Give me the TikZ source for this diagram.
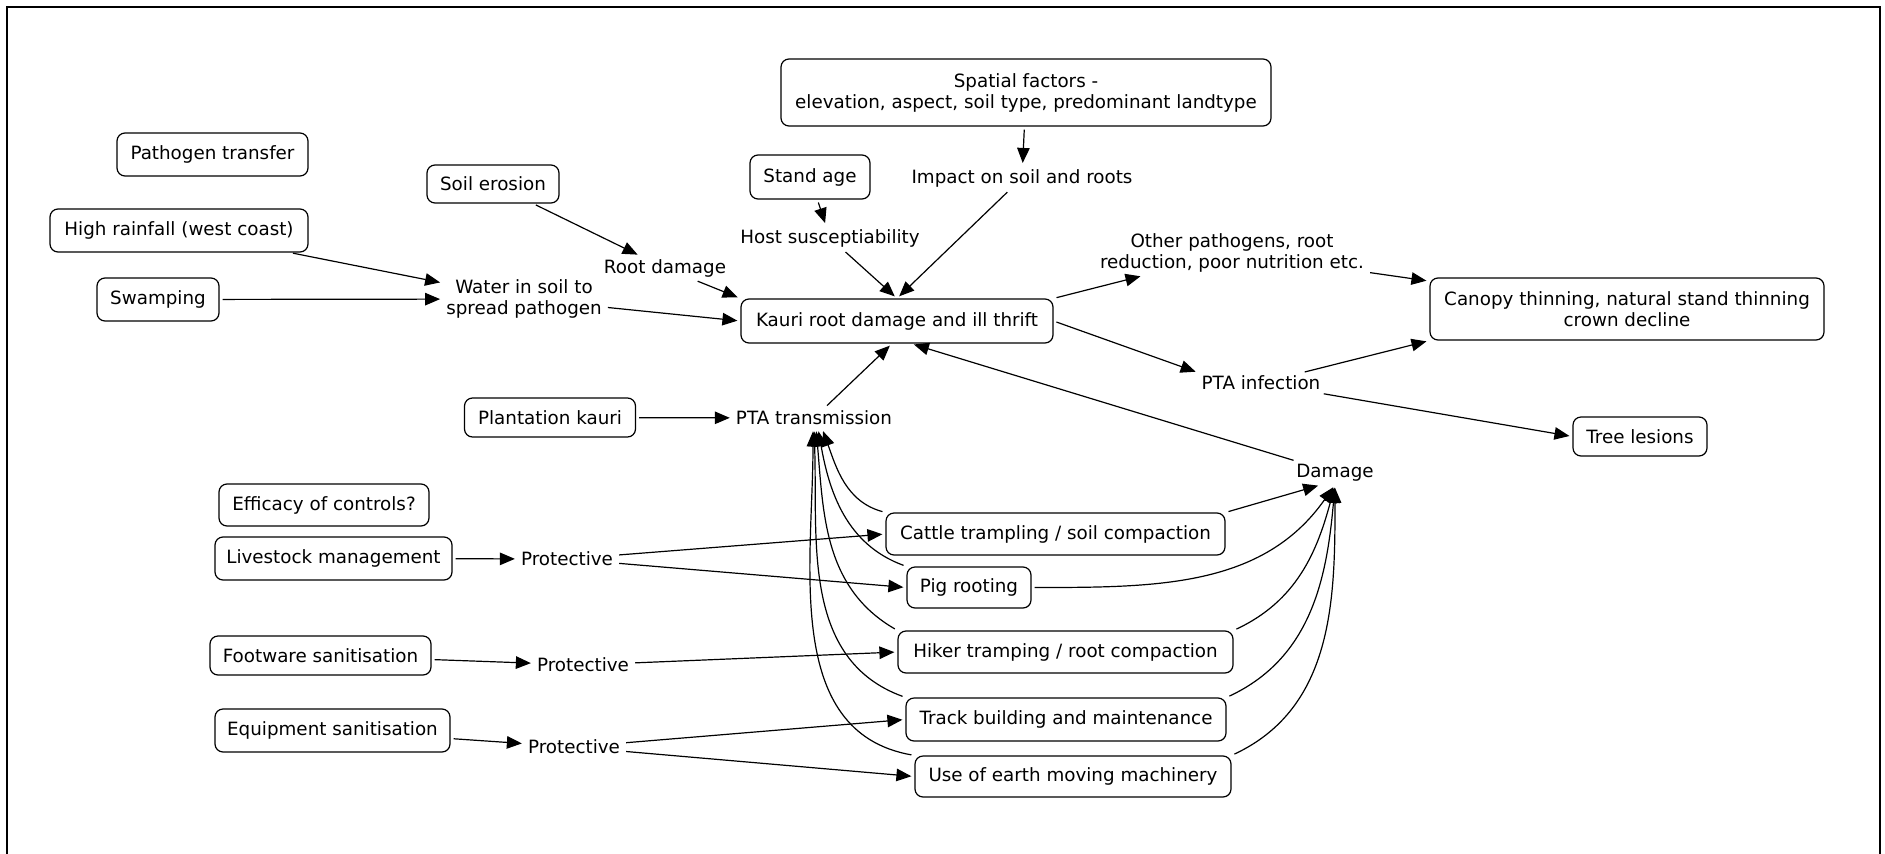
\documentclass[tikz,border=0pt]{standalone}
\usepackage{fontspec}
\setmainfont{DejaVu Sans}
\usetikzlibrary{arrows.meta}
\tikzset{
  every node/.style={font=\fontsize{18.3pt}{21pt}\selectfont},
  box/.style={draw, rounded corners=8pt, line width=1.2pt, align=center, inner sep=2pt},
  lbl/.style={align=center, inner sep=3pt},
  arr/.style={-{Triangle[length=15pt,width=12.5pt]}, line width=1.2pt, shorten >=3pt, shorten <=3pt},
}
\begin{document}
\begin{tikzpicture}[x=1pt,y=-1pt]
\useasboundingbox (0,0) rectangle (1885,854);
\clip (0,0) rectangle (1885,854);
\draw[line width=2.5pt] (7,880) -- (7,7) -- (1880,7) -- (1880,880);

% boxes
\node[box, minimum width=191, minimum height=43] (pt) at (212.5,154.5) {Pathogen transfer};
\node[box, minimum width=132, minimum height=38] (se) at (493,184) {Soil erosion};
\node[box, minimum width=258, minimum height=43] (hr) at (179,230.5) {High rainfall (west coast)};
\node[box, minimum width=122, minimum height=43] (sw) at (158,299.5) {Swamping};
\node[box, minimum width=171, minimum height=39] (pk) at (550,417.5) {Plantation kauri};
\node[box, minimum width=490, minimum height=67] (sf) at (1026,92.5) {Spatial factors -\\elevation, aspect, soil type, predominant landtype};
\node[box, minimum width=120, minimum height=44] (sa) at (810,177) {Stand age};
\node[box, minimum width=312, minimum height=44] (kr) at (897,321) {Kauri root damage and ill thrift};
\node[box, minimum width=394, minimum height=62] (cd) at (1627,309) {Canopy thinning, natural stand thinning\\crown decline};
\node[box, minimum width=134, minimum height=39] (tl) at (1640,436.5) {Tree lesions};
\node[box, minimum width=210, minimum height=42] (ec) at (324,505) {Efficacy of controls?};
\node[box, minimum width=237, minimum height=43] (lm) at (333.5,558.5) {Livestock management};
\node[box, minimum width=221, minimum height=39] (fs) at (320.5,655.5) {Footware sanitisation};
\node[box, minimum width=235, minimum height=43] (es) at (332.5,730.5) {Equipment sanitisation};
\node[box, minimum width=339, minimum height=42] (ct) at (1055.5,534) {Cattle trampling / soil compaction};
\node[box, minimum width=124, minimum height=41] (pr) at (969,587.5) {Pig rooting};
\node[box, minimum width=335, minimum height=42] (hk) at (1065.5,652) {Hiker tramping / root compaction};
\node[box, minimum width=320, minimum height=43] (tb) at (1066,719.5) {Track building and maintenance};
\node[box, minimum width=316, minimum height=41] (em) at (1073,776.5) {Use of earth moving machinery};

% labels
\node[lbl] (wt) at (524,299) {Water in soil to\\spread pathogen};
\node[lbl] (rd) at (665,268) {Root damage};
\node[lbl] (is) at (1022,178) {Impact on soil and roots};
\node[lbl] (hs) at (830,238) {Host susceptiability};
\node[lbl] (op) at (1232,253) {Other pathogens, root\\reduction, poor nutrition etc.};
\node[lbl] (pi) at (1261,383) {PTA infection};
\node[lbl] (ptr) at (814,418) {PTA transmission};
\node[lbl] (dm) at (1335,473) {Damage};
\node[lbl] (p1) at (567,559) {Protective};
\node[lbl] (p2) at (583,665) {Protective};
\node[lbl] (p3) at (574,747) {Protective};

% connectors
\draw[arr] (hr) -- (wt);
\draw[arr] (sw) -- (wt);
\draw[arr] (se) -- (rd);
\draw[arr] (rd) -- (kr.north west);
\draw[arr] (wt) -- (kr.west);
\draw[arr] (pk) -- (ptr);
\draw[arr] (sf) -- (is);
\draw[arr] (sa) -- (hs);
\draw[arr] (hs) -- (kr.north);
\draw[arr] (is) -- (kr.north);
\draw[arr] (kr.north east) -- (op);
\draw[arr] (kr.east) -- (pi.north west);
\draw[arr] (op) -- (cd);
\draw[arr] (pi) -- (cd.south west);
\draw[arr] (pi) -- (tl.west);
\draw[arr] (ptr) -- ([xshift=-5pt]kr.south);
\draw[arr] (dm) -- ([xshift=14pt]kr.south);

\draw[arr] (lm) -- (p1);
\draw[arr] (fs) -- (p2);
\draw[arr] (es) -- (p3);
\draw[arr] (p1) -- (ct.west);
\draw[arr] (p1) -- (pr.west);
\draw[arr] (p2) -- (hk.west);
\draw[arr] (p3) -- (tb.west);
\draw[arr] (p3) -- (em.west);

% curves to PTA transmission
\draw[arr] (ct.north west) to[out=165,in=-70] ([xshift=8pt]ptr.south);
\draw[arr] (pr.north west) to[out=160,in=-80] ([xshift=4pt]ptr.south);
\draw[arr] (hk.north west) to[out=150,in=-85] ([xshift=2pt]ptr.south);
\draw[arr] (tb.north west) to[out=160,in=-88] (ptr.south);
\draw[arr] (em.north west) to[out=170,in=-90] ([xshift=-1pt]ptr.south);

% curves to Damage
\draw[arr] (ct.north east) -- ([xshift=-14pt]dm.south);
\draw[arr] (pr.east) to[out=0,in=-125] (dm.south);
\draw[arr] (hk.north east) to[out=25,in=-105] (dm.south);
\draw[arr] (tb.north east) to[out=25,in=-95] (dm.south);
\draw[arr] (em.north east) to[out=25,in=-90] (dm.south);
\end{tikzpicture}
\end{document}
